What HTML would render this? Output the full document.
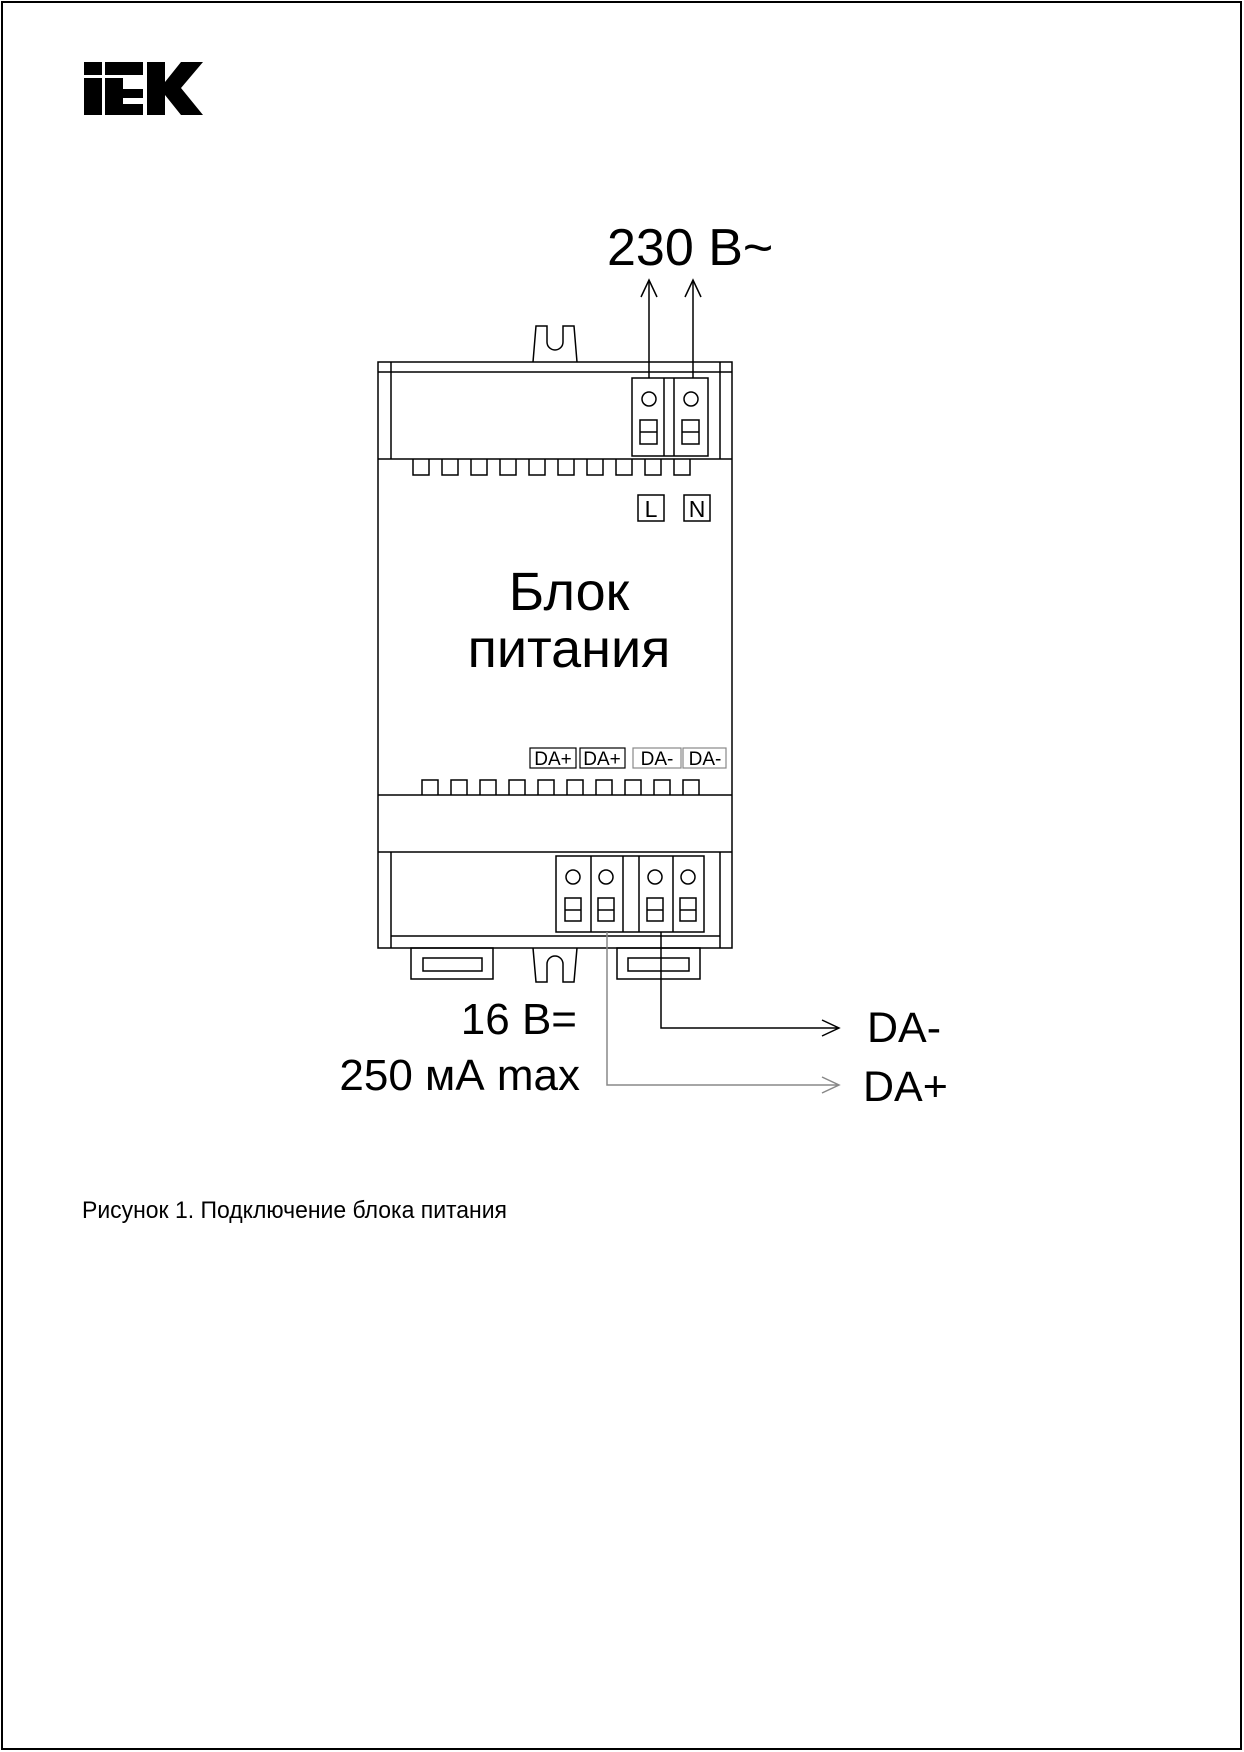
<!DOCTYPE html>
<html><head><meta charset="utf-8"><style>
html,body{margin:0;padding:0;background:#fff}
svg{display:block}
text{font-family:"Liberation Sans",Arial,sans-serif}
</style></head><body>
<svg width="1244" height="1752" viewBox="0 0 1244 1752" xmlns="http://www.w3.org/2000/svg">
<rect x="2" y="2" width="1239" height="1747" fill="none" stroke="#000" stroke-width="2"/>
<g fill="#000">
<rect x="84" y="62" width="18" height="13"/>
<rect x="84" y="78" width="18" height="37"/>
<rect x="105" y="62" width="38" height="13"/>
<rect x="105" y="78" width="18" height="37"/>
<rect x="123" y="89" width="20" height="9"/>
<rect x="123" y="104" width="20" height="11"/>
<polygon points="147,62 165,62 165,82 181,62 203,62 181,88 203,115 181,115 165,95 165,115 147,115"/>
</g>
<g fill="none" stroke="#000" stroke-width="1.5">
<path d="M533,362 L536,326 L547,326 L547,342 A8,8 0 0 0 563,342 L563,326 L574,326 L577,362"/>
<rect x="378" y="362" width="354" height="586"/>
<line x1="378" y1="372" x2="732" y2="372"/>
<line x1="391" y1="362" x2="391" y2="459"/>
<line x1="720" y1="362" x2="720" y2="459"/>
<line x1="378" y1="459" x2="732" y2="459"/>
<line x1="378" y1="795" x2="732" y2="795"/>
<line x1="378" y1="852" x2="732" y2="852"/>
<line x1="391" y1="852" x2="391" y2="948"/>
<line x1="720" y1="852" x2="720" y2="948"/>
<line x1="391" y1="936" x2="720" y2="936"/>
<rect x="632" y="378" width="76" height="78"/>
<line x1="664" y1="378" x2="664" y2="456"/>
<line x1="674" y1="378" x2="674" y2="456"/>
<circle cx="649" cy="399" r="7"/><circle cx="691" cy="399" r="7"/>
<rect x="640" y="420" width="17" height="24"/><line x1="640" y1="432" x2="657" y2="432"/>
<rect x="682" y="420" width="17" height="24"/><line x1="682" y1="432" x2="699" y2="432"/>
<path d="M413,459v16h16v-16 M442,459v16h16v-16 M471,459v16h16v-16 M500,459v16h16v-16 M529,459v16h16v-16 M558,459v16h16v-16 M587,459v16h16v-16 M616,459v16h16v-16 M645,459v16h16v-16 M674,459v16h16v-16"/>
<path d="M422,795v-15h16v15 M451,795v-15h16v15 M480,795v-15h16v15 M509,795v-15h16v15 M538,795v-15h16v15 M567,795v-15h16v15 M596,795v-15h16v15 M625,795v-15h16v15 M654,795v-15h16v15 M683,795v-15h16v15"/>
<rect x="556" y="856" width="148" height="76"/>
<line x1="591" y1="856" x2="591" y2="932"/>
<line x1="623" y1="856" x2="623" y2="932"/>
<line x1="639" y1="856" x2="639" y2="932"/>
<line x1="673" y1="856" x2="673" y2="932"/>
<circle cx="573" cy="877" r="7"/><circle cx="606" cy="877" r="7"/><circle cx="655" cy="877" r="7"/><circle cx="688" cy="877" r="7"/>
<rect x="565" y="898" width="16" height="23"/><line x1="565" y1="910" x2="581" y2="910"/>
<rect x="598" y="898" width="16" height="23"/><line x1="598" y1="910" x2="614" y2="910"/>
<rect x="647" y="898" width="16" height="23"/><line x1="647" y1="910" x2="663" y2="910"/>
<rect x="680" y="898" width="16" height="23"/><line x1="680" y1="910" x2="696" y2="910"/>
<rect x="411" y="948" width="82" height="31"/><rect x="423" y="958" width="59" height="13"/>
<rect x="617" y="948" width="83" height="31"/><rect x="628" y="958" width="61" height="13"/>
<path d="M533,948 L536,982 L547,982 L547,964 A8,8 0 0 1 563,964 L563,982 L574,982 L577,948"/>
<rect x="638" y="495" width="26" height="26"/>
<rect x="684" y="495" width="26" height="26"/>
<rect x="530" y="748" width="46" height="20" stroke-width="1.2"/>
<rect x="580" y="748" width="45" height="20" stroke-width="1.2"/>
<rect x="633" y="748" width="48" height="20" stroke="#888" stroke-width="1.2"/>
<rect x="683" y="748" width="43" height="20" stroke="#888" stroke-width="1.2"/>
<line x1="649" y1="378" x2="649" y2="281"/>
<line x1="693" y1="378" x2="693" y2="281"/>
<path d="M641,297 L649,280 L657,297 M685,297 L693,280 L701,297"/>
<path d="M661,932 V1028 H838 M822,1020 L839,1028 L822,1036"/>
</g>
<g fill="none" stroke="#888" stroke-width="1.5">
<path d="M607,932 V1085 H838 M822,1077 L839,1085 L822,1093"/>
</g>
<g fill="#000">
<text x="607" y="265" font-size="52">230 B~</text>
<text x="569" y="610" font-size="54" text-anchor="middle">Блок</text>
<text x="569" y="667" font-size="54" text-anchor="middle">питания</text>
<text x="651" y="517" font-size="23" text-anchor="middle">L</text>
<text x="697" y="517" font-size="23" text-anchor="middle">N</text>
<text x="553" y="765" font-size="19" text-anchor="middle">DA+</text>
<text x="602" y="765" font-size="19" text-anchor="middle">DA+</text>
<text x="657" y="765" font-size="19" text-anchor="middle">DA-</text>
<text x="705" y="765" font-size="19" text-anchor="middle">DA-</text>
<text x="577" y="1034" font-size="44" text-anchor="end">16 B=</text>
<text x="580" y="1090" font-size="44" text-anchor="end">250 мА max</text>
<text x="867" y="1042" font-size="43">DA-</text>
<text x="863" y="1101" font-size="43">DA+</text>
<text x="82" y="1218" font-size="24" textLength="425" lengthAdjust="spacingAndGlyphs">Рисунок 1. Подключение блока питания</text>
</g>
</svg>
</body></html>
